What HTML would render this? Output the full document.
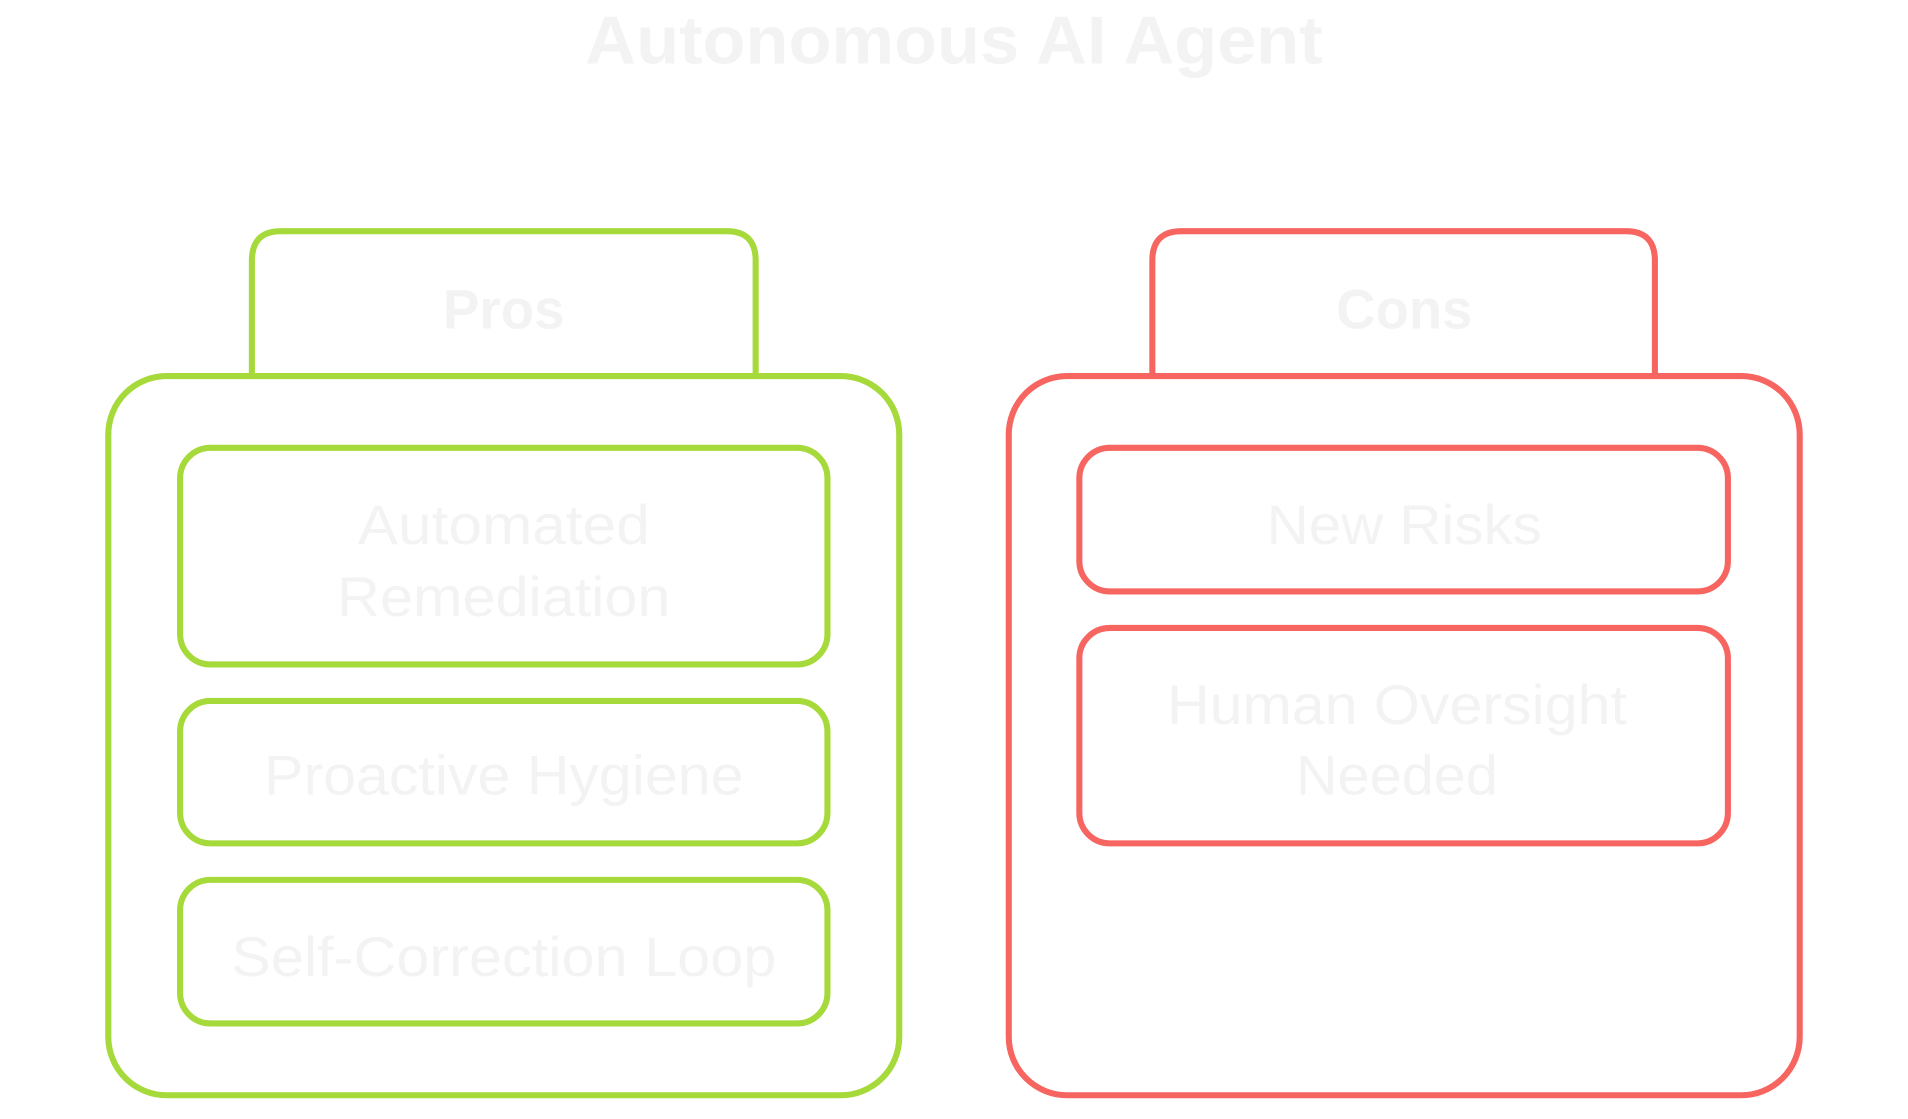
<!DOCTYPE html>
<html><head><meta charset="utf-8"><style>
html,body{margin:0;padding:0;background:#fff;}
svg{display:block;}
text{font-family:"Liberation Sans",sans-serif;fill:#f3f3f3;text-anchor:middle;}
</style></head><body>
<svg width="1908" height="1119" viewBox="0 0 1568 919.5" preserveAspectRatio="none" xmlns="http://www.w3.org/2000/svg">
<text x="784" y="52" font-size="56" font-weight="bold" textLength="606" lengthAdjust="spacingAndGlyphs">Autonomous AI Agent</text>
<g fill="none" stroke="#a6d93a" stroke-width="5">
<path d="M207,309 V214 Q207,190 231,190 H597 Q621,190 621,214 V309"/>
<rect x="89" y="309" width="650" height="591" rx="48"/>
<rect x="148" y="368" width="532" height="178" rx="25"/>
<rect x="148" y="576" width="532" height="117" rx="25"/>
<rect x="148" y="723" width="532" height="118" rx="25"/>
</g>
<g fill="none" stroke="#f76560" stroke-width="5">
<path d="M947,309 V214 Q947,190 971,190 H1336 Q1360,190 1360,214 V309"/>
<rect x="829" y="309" width="650" height="591" rx="48"/>
<rect x="887" y="368" width="533" height="118" rx="25"/>
<rect x="887" y="516" width="533" height="177" rx="25"/>
</g>
<text x="414" y="270" font-size="46" font-weight="bold" textLength="100" lengthAdjust="spacingAndGlyphs">Pros</text>
<text x="1154" y="270" font-size="46" font-weight="bold" textLength="112" lengthAdjust="spacingAndGlyphs">Cons</text>
<text x="414" y="447" font-size="46" textLength="240" lengthAdjust="spacingAndGlyphs">Automated</text>
<text x="414" y="506" font-size="46" textLength="274" lengthAdjust="spacingAndGlyphs">Remediation</text>
<text x="414" y="653" font-size="46" textLength="394" lengthAdjust="spacingAndGlyphs">Proactive Hygiene</text>
<text x="414" y="802" font-size="46" textLength="448" lengthAdjust="spacingAndGlyphs">Self-Correction Loop</text>
<text x="1154" y="447" font-size="46" textLength="226" lengthAdjust="spacingAndGlyphs">New Risks</text>
<text x="1148" y="595" font-size="46" textLength="378" lengthAdjust="spacingAndGlyphs">Human Oversight</text>
<text x="1148" y="653" font-size="46" textLength="166" lengthAdjust="spacingAndGlyphs">Needed</text>
</svg>
</body></html>
